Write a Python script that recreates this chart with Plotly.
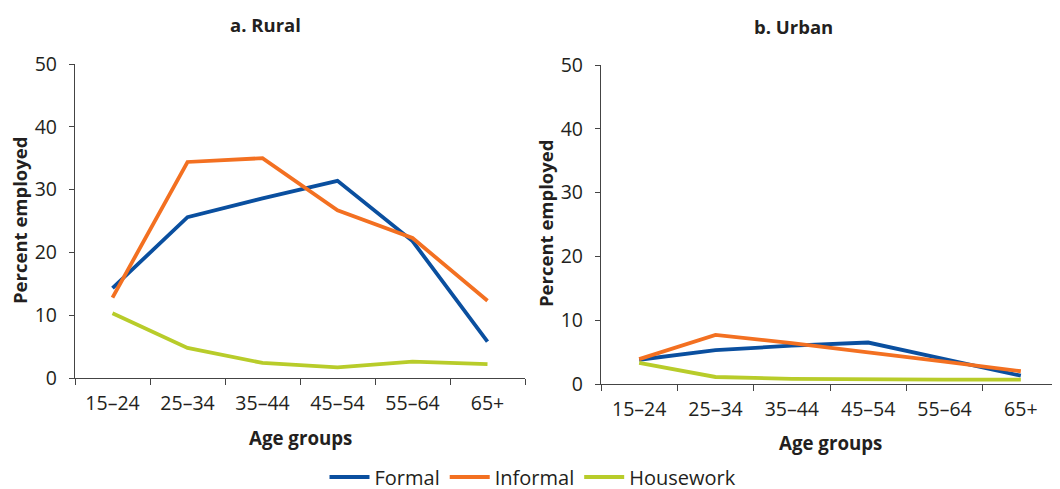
import plotly.graph_objects as go

age_groups = ["15–24", "25–34", "35–44", "45–54", "55–64", "65+"]

rural_formal = [14.3, 25.6, 28.6, 31.4, 21.8, 5.8]
rural_informal = [12.8, 34.4, 35.0, 26.7, 22.3, 12.3]
rural_housework = [10.3, 4.8, 2.4, 1.7, 2.6, 2.2]

urban_formal = [3.8, 5.3, 6.0, 6.5, 3.9, 1.3]
urban_informal = [3.9, 7.7, 6.4, 5.0, 3.5, 2.0]
urban_housework = [3.3, 1.1, 0.8, 0.7, 0.7, 0.7]

series_names = ["Formal", "Informal", "Housework"]
colors = ["#0a4f9f", "#f37021", "#b8cc2a"]

W, H = 1060, 489
OFF = 8  # page body offset
TXT = "#231f20"
FONT = "Open Sans"

fig = go.Figure()

rural = [rural_formal, rural_informal, rural_housework]
urban = [urban_formal, urban_informal, urban_housework]

for name, col, vals in zip(series_names, colors, rural):
    fig.add_trace(go.Scatter(x=age_groups, y=vals, mode="lines", name=name,
                             line=dict(color=col, width=3.8),
                             xaxis="x", yaxis="y", legendgroup=name, showlegend=True))
for name, col, vals in zip(series_names, colors, urban):
    fig.add_trace(go.Scatter(x=age_groups, y=vals, mode="lines", name=name,
                             line=dict(color=col, width=3.8),
                             xaxis="x2", yaxis="y2", legendgroup=name, showlegend=False))

def px_x(p):
    return (p - OFF) / W

def px_y(p):
    return 1 - (p - OFF) / H

xcommon = dict(type="category", range=[-0.5, 5.5], showline=True, linecolor="#444444",
               linewidth=1.3, ticks="outside", ticklen=6, tickcolor="#444444",
               tickson="boundaries", showgrid=False, zeroline=False, automargin=False,
               tickfont=dict(family=FONT, size=19.5, color=TXT), ticklabelstandoff=7)
ycommon = dict(range=[0, 50], tickvals=[0, 10, 20, 30, 40, 50], showline=True,
               linecolor="#444444", linewidth=1.3, ticks="outside", ticklen=5,
               tickcolor="#444444", showgrid=False, zeroline=False, automargin=False,
               tickfont=dict(family=FONT, size=19.5, color=TXT), ticklabelstandoff=8)

fig.update_layout(
    template="none",
    width=W, height=H,
    margin=dict(l=0, r=0, t=0, b=0, autoexpand=False),
    paper_bgcolor="white", plot_bgcolor="white",
    xaxis=dict(domain=[px_x(75), px_x(525)], anchor="y", **xcommon),
    yaxis=dict(domain=[px_y(378), px_y(64)], anchor="x", **ycommon),
    xaxis2=dict(domain=[px_x(601), px_x(1059)], anchor="y2", **xcommon),
    yaxis2=dict(domain=[px_y(384), px_y(65)], anchor="x2", **ycommon),
    showlegend=True,
    legend=dict(orientation="h", x=px_x(533), xanchor="center", y=px_y(477), yanchor="middle",
                font=dict(family=FONT, size=20, color=TXT), itemwidth=40,
                bgcolor="rgba(0,0,0,0)", borderwidth=0),
)

annotations = [
    dict(text="<b>a. Rural</b>", x=px_x(265), y=px_y(25), font=dict(size=18.5)),
    dict(text="<b>b. Urban</b>", x=px_x(793), y=px_y(26), font=dict(size=18.5)),
    dict(text="<b>Percent employed</b>", x=px_x(20), y=px_y(221), textangle=-90, font=dict(size=18.5)),
    dict(text="<b>Percent employed</b>", x=px_x(545), y=px_y(224), textangle=-90, font=dict(size=18.5)),
    dict(text="<b>Age groups</b>", x=px_x(300), y=px_y(437), font=dict(size=18.7)),
    dict(text="<b>Age groups</b>", x=px_x(830), y=px_y(442), font=dict(size=18.7)),
]
for a in annotations:
    a.update(xref="paper", yref="paper", showarrow=False, xanchor="center", yanchor="middle")
    a["font"].update(family=FONT, color=TXT)
fig.update_layout(annotations=annotations)

fig.write_html("out.html")
